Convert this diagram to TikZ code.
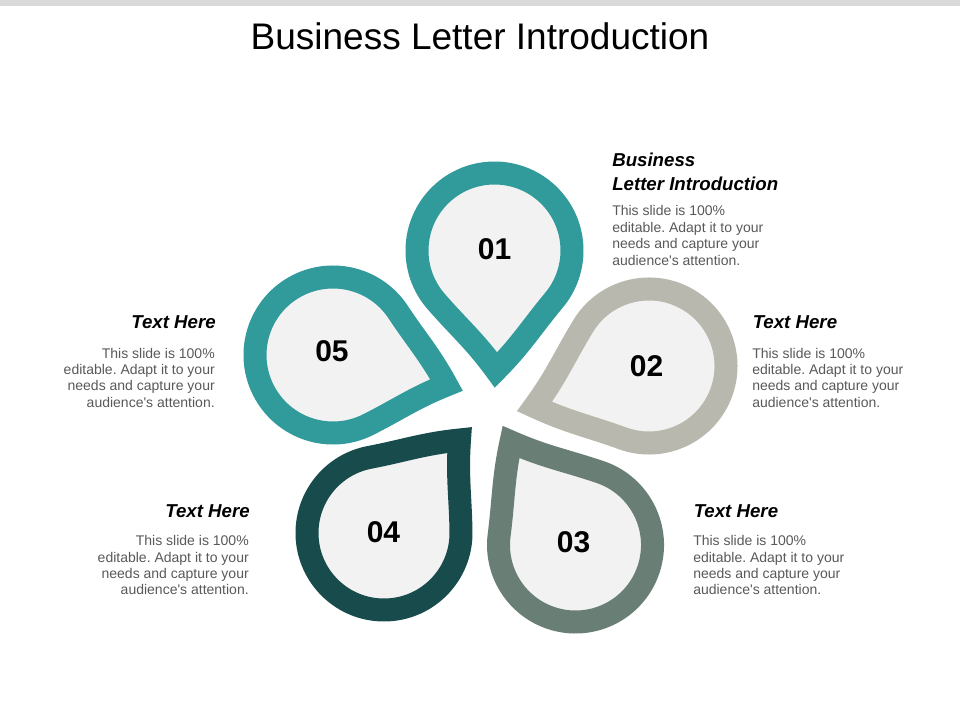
\documentclass[tikz,border=0pt]{standalone}
\usepackage{fontspec}
\setmainfont{Liberation Sans}
\frenchspacing
\definecolor{teal1}{RGB}{49,154,155}
\definecolor{gray2}{RGB}{184,184,174}
\definecolor{green3}{RGB}{105,127,118}
\definecolor{dark4}{RGB}{23,75,76}
\definecolor{innerfill}{RGB}{242,242,242}
\definecolor{bodygray}{RGB}{89,89,89}
\definecolor{barcol}{RGB}{217,217,217}
\tikzset{
  petalring/.style={fill=innerfill, line width=17.25pt, line join=miter, miter limit=10},
  titlefont/.style={inner sep=0pt, font=\fontsize{27.75}{32}\selectfont, text=black},
  numfont/.style={inner sep=0pt, font=\fontsize{22.5}{26}\selectfont\bfseries, text=black},
  headfont/.style={inner sep=0pt, font=\fontsize{14}{17}\selectfont\bfseries\itshape, text=black},
  bodyfont/.style={inner sep=0pt, font=\fontsize{10.5}{12.5}\selectfont\frenchspacing, text=bodygray},
}
% #1 name, #2 cx, #3 cy, #4 tip x, #5 tip y, #6 mid radius, #7 twist, #8 colour
\newcommand\petal[8]{%
  \coordinate (#1c) at (#2,#3);
  \coordinate (#1t) at (#4,#5);
  \pgfmathsetmacro\pth{atan2(#5-#3,#4-#2)}%
  \pgfmathsetmacro\pD{veclen(#4-#2,#5-#3)}%
  \pgfmathsetmacro\pbe{acos(#6/\pD)}%
  \pgfmathsetmacro\paA{\pth+\pbe}%
  \pgfmathsetmacro\paB{\pth-\pbe+360}%
  \pgfmathsetmacro\pL{0.4*sqrt(\pD*\pD-#6*#6)}%
  \pgfmathsetmacro\pAx{#2+#6*cos(\paA)}%
  \pgfmathsetmacro\pAy{#3+#6*sin(\paA)}%
  \path[petalring, draw=#8] (#1t)
    .. controls +(\paA+90+#7:\pL) and +(\paA-90:\pL) .. (\pAx,\pAy)
    arc[start angle=\paA, end angle=\paB, radius=#6]
    .. controls +(\paB+90:\pL) and +(\paB-90+#7:\pL) .. (#1t) -- cycle;
}
% #1 name, #2 x, #3 first baseline y, #4 anchor, #5 line spacing
\newcommand\bodytext[5]{%
  \node[bodyfont, anchor=#4] (#1-1) at (#2,#3) {This slide is 100\%};
  \node[bodyfont, anchor=#4] (#1-2) at (#2,#3+#5) {editable. Adapt it to your};
  \node[bodyfont, anchor=#4] (#1-3) at (#2,#3+2*#5) {needs and capture your};
  \node[bodyfont, anchor=#4] (#1-4) at (#2,#3+3*#5) {audience\textquotesingle s attention.};
}
\begin{document}
\begin{tikzpicture}[x=0.75pt,y=-0.75pt]
\useasboundingbox (0,0) rectangle (960,720);
\fill[white] (0,0) rectangle (960,720);
\fill[barcol] (0,0) rectangle (960,6);
\node[titlefont, anchor=base] (title) at (480,50) {Business Letter Introduction};

\petal{p1}{494.5}{250.5}{496}{370}{77.5}{5}{teal1}
\petal{p2}{649}{366}{534.5}{406.5}{77}{5}{gray2}
\petal{p3}{575.5}{545}{511}{442}{77}{5}{green3}
\petal{p4}{384}{533}{459.5}{440}{77}{5}{dark4}
\petal{p5}{333}{355}{446.5}{385}{78}{5}{teal1}

\node[numfont] (n1) at (494.5,249) {01};
\node[numfont] (n2) at (646.5,366) {02};
\node[numfont] (n3) at (573.5,542) {03};
\node[numfont] (n4) at (383.5,532) {04};
\node[numfont] (n5) at (332,351) {05};

\node[headfont, anchor=base west] (h1a) at (612,167) {Business};
\node[headfont, anchor=base west] (h1b) at (612,191) {Letter Introduction};
\bodytext{b1}{612}{216}{base west}{16.5}

\node[headfont, anchor=base west] (h2) at (752.5,329) {Text Here};
\bodytext{b2}{752}{358.3}{base west}{16.3}

\node[headfont, anchor=base west] (h3) at (693.5,517.7) {Text Here};
\bodytext{b3}{693}{545.7}{base west}{16.3}

\node[headfont, anchor=base east] (h4) at (250,517.7) {Text Here};
\bodytext{b4}{249}{545.7}{base east}{16.3}

\node[headfont, anchor=base east] (h5) at (216,329) {Text Here};
\bodytext{b5}{215}{358.3}{base east}{16.3}
\end{tikzpicture}
\end{document}
